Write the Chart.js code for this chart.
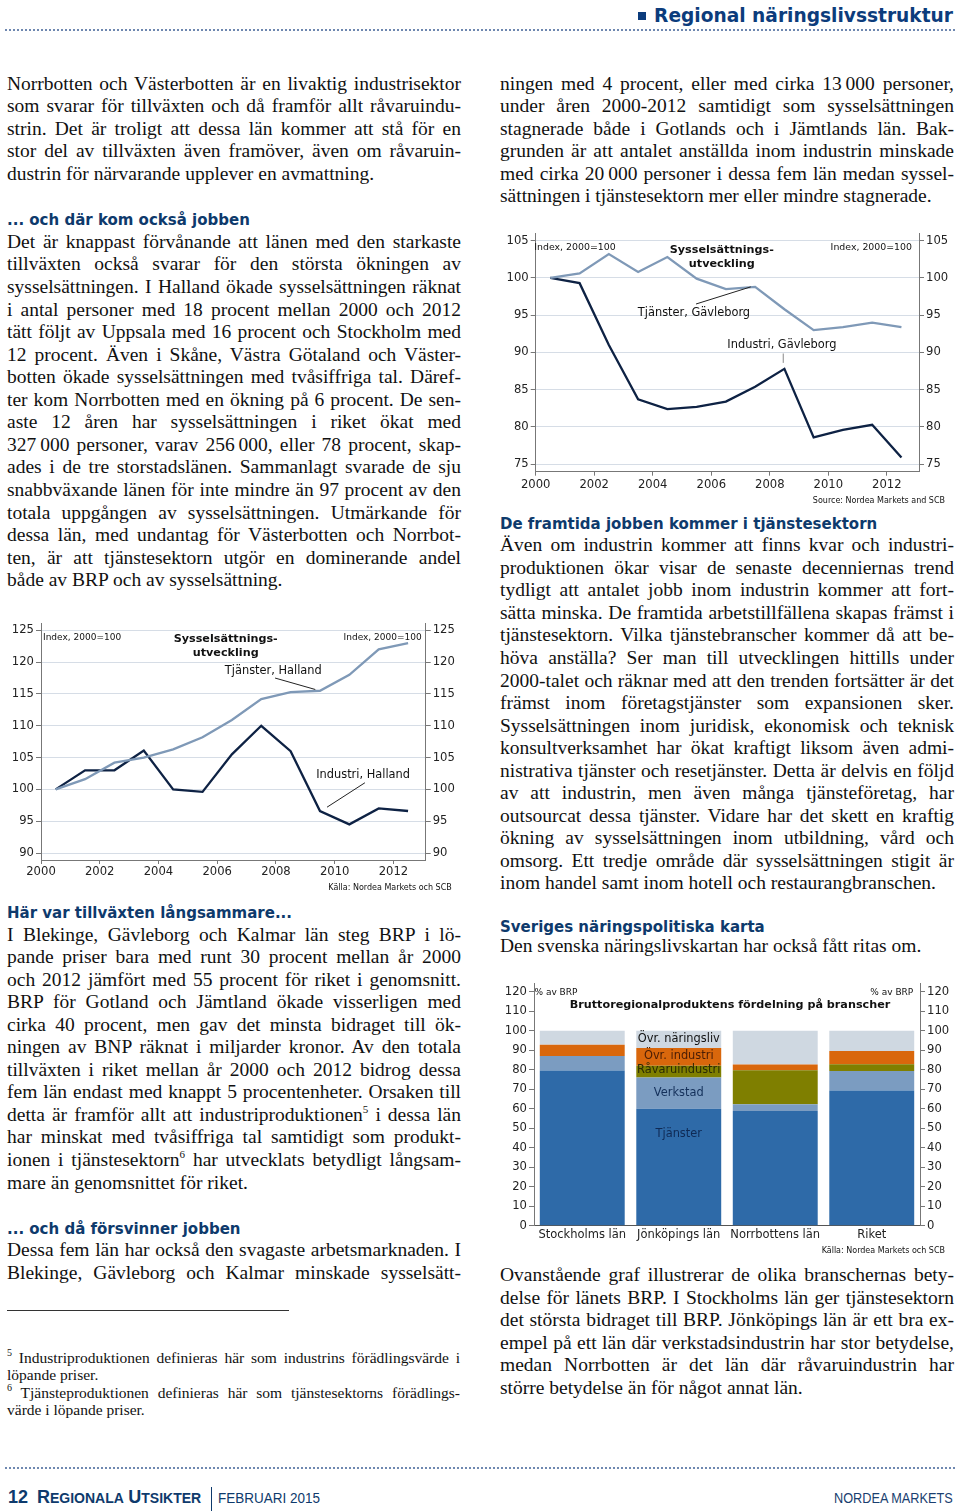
<!DOCTYPE html>
<html><head><meta charset="utf-8">
<script src="https://cdn.jsdelivr.net/npm/chart.js@4.4.1/dist/chart.umd.min.js"></script>
<style>
html,body{margin:0;padding:0;}
body{width:960px;height:1511px;position:relative;background:#fff;overflow:hidden;font-family:'Liberation Serif','Times New Roman',serif;color:#111;}
.ln{position:absolute;white-space:nowrap;font-size:19.5px;line-height:22px;}
.fn{position:absolute;white-space:nowrap;font-size:15.5px;line-height:17px;}
.h{position:absolute;white-space:nowrap;font-family:'DejaVu Sans',sans-serif;font-weight:bold;font-size:15px;line-height:18px;color:#0e3a6c;}
sup{font-size:11px;line-height:0;vertical-align:baseline;position:relative;top:-8px;}
.fn sup{font-size:10px;top:-7px;}
canvas{position:absolute;}
.dots{position:absolute;left:5px;width:950px;height:0;border-top:2px dotted #6f88b0;}
#hdr{position:absolute;right:7px;top:4px;font-family:'DejaVu Sans',sans-serif;font-weight:bold;font-size:18.6px;line-height:24px;color:#0c3c7c;white-space:nowrap;}
#hdr i{display:inline-block;width:8px;height:8px;background:#0c3c7c;margin-right:8px;vertical-align:2px;}
#foot{position:absolute;left:8px;top:1487px;height:24px;font-family:'Liberation Sans',Arial,sans-serif;color:#0e3a6c;white-space:nowrap;}
#foot b{font-weight:bold;}
.f18{font-size:18px;} .f14{font-size:14px;}
#sep{position:absolute;left:211px;top:1487px;width:1px;height:24px;background:#0e3a6c;}
#feb{position:absolute;left:218px;top:1489px;font-family:'Liberation Sans',Arial,sans-serif;font-size:15.5px;color:#0e3a6c;transform:scaleX(0.87);transform-origin:0 0;white-space:nowrap;}
#nm{position:absolute;right:7px;top:1489px;font-family:'Liberation Sans',Arial,sans-serif;font-size:15.5px;color:#1a3f70;transform:scaleX(0.82);transform-origin:100% 0;white-space:nowrap;}
#fline{position:absolute;left:7px;top:1310px;width:282px;height:1px;background:#333;}
</style></head>
<body>
<div id="hdr"><i></i>Regional näringslivsstruktur</div>
<div class="dots" style="top:29px"></div>
<div class="dots" style="top:1467px"></div>
<div id="foot"><b class="f18">12</b>&nbsp;&nbsp;<b class="f18">R</b><b class="f14">EGIONALA</b> <b class="f18">U</b><b class="f14">TSIKTER</b></div>
<div id="sep"></div>
<div id="feb">FEBRUARI 2015</div>
<div id="nm">NORDEA MARKETS</div>
<div id="fline"></div>
<div id="text"></div>

<canvas id="cHalland" width="462" height="280" style="left:0px;top:615px"></canvas>
<canvas id="cGavle" width="465" height="285" style="left:495px;top:225px"></canvas>
<canvas id="cBrp" width="465" height="285" style="left:495px;top:975px"></canvas>

<script>
// ---------------- DATA ----------------
const years = [2000,2001,2002,2003,2004,2005,2006,2007,2008,2009,2010,2011,2012];
const xTickYears = [2000,2002,2004,2006,2008,2010,2012];

const hallandTjanster = [100,101.6,104.2,105,106.3,108.2,110.9,114.2,115.3,115.5,118,122,123];
const hallandIndustri = [100,103,103,106.1,100,99.6,105.5,110,106,96.6,94.5,97,96.6];
const hallandYTicks = [90,95,100,105,110,115,120,125];

const gavleTjanster = [100,100.6,103.2,100.8,102.8,99.9,98.5,98.8,95.8,93,93.4,94,93.4];
const gavleIndustri = [100,99.3,91,83.7,82.4,82.7,83.4,85.4,87.8,78.6,79.6,80.3,75.9];
const gavleYTicks = [75,80,85,90,95,100,105];

const counties = ['Stockholms län','Jönköpings län','Norrbottens län','Riket'];
const brpTjanster = [79.6,60,58.8,69.3];
const brpVerkstad = [7.4,16,3.5,10];
const brpRavaru = [0,6,17.4,3.5];
const brpOvrIndustri = [5.8,9.2,3,6.8];
const brpOvrNaringsliv = [7.2,8.8,17.3,10.4];
const brpYTicks = [0,10,20,30,40,50,60,70,80,90,100,110,120];

// ---------------- TEXT ----------------
const STEP = 22.55;
const paras = [
 {x:7,y:83.3,lines:[
  "Norrbotten och Västerbotten är en livaktig industrisektor",
  "som svarar för tillväxten och då framför allt råvaruindu-",
  "strin. Det är troligt att dessa län kommer att stå för en",
  "stor del av tillväxten även framöver, även om råvaruin-",
  "dustrin för närvarande upplever en avmattning."]},
 {x:7,y:241.7,lines:[
  "Det är knappast förvånande att länen med den starkaste",
  "tillväxten också svarar för den största ökningen av",
  "sysselsättningen. I Halland ökade sysselsättningen räknat",
  "i antal personer med 18 procent mellan 2000 och 2012",
  "tätt följt av Uppsala med 16 procent och Stockholm med",
  "12 procent. Även i Skåne, Västra Götaland och Väster-",
  "botten ökade sysselsättningen med tvåsiffriga tal. Däref-",
  "ter kom Norrbotten med en ökning på 6 procent. De sen-",
  "aste 12 åren har sysselsättningen i riket ökat med",
  "327\u2009000 personer, varav 256\u2009000, eller 78 procent, skap-",
  "ades i de tre storstadslänen. Sammanlagt svarade de sju",
  "snabbväxande länen för inte mindre än 97 procent av den",
  "totala uppgången av sysselsättningen. Utmärkande för",
  "dessa län, med undantag för Västerbotten och Norrbot-",
  "ten, är att tjänstesektorn utgör en dominerande andel",
  "både av BRP och av sysselsättning."]},
 {x:7,y:934.3,lines:[
  "I Blekinge, Gävleborg och Kalmar län steg BRP i lö-",
  "pande priser bara med runt 30 procent mellan år 2000",
  "och 2012 jämfört med 55 procent för riket i genomsnitt.",
  "BRP för Gotland och Jämtland ökade visserligen med",
  "cirka 40 procent, men gav det minsta bidraget till ök-",
  "ningen av BNP räknat i miljarder kronor. Av den totala",
  "tillväxten i riket mellan år 2000 och 2012 bidrog dessa",
  "fem län endast med knappt 5 procentenheter. Orsaken till",
  "detta är framför allt att industriproduktionen<sup>5</sup> i dessa län",
  "har minskat med tvåsiffriga tal samtidigt som produkt-",
  "ionen i tjänstesektorn<sup>6</sup> har utvecklats betydligt långsam-",
  "mare än genomsnittet för riket."]},
 {x:7,y:1250,lines:[
  "Dessa fem län har också den svagaste arbetsmarknaden. I",
  "Blekinge, Gävleborg och Kalmar minskade sysselsätt-"],lastJ:true},
 {x:500,y:83.3,lines:[
  "ningen med 4 procent, eller med cirka 13\u2009000 personer,",
  "under åren 2000-2012 samtidigt som sysselsättningen",
  "stagnerade både i Gotlands och i Jämtlands län. Bak-",
  "grunden är att antalet anställda inom industrin minskade",
  "med cirka 20\u2009000 personer i dessa fem län medan syssel-",
  "sättningen i tjänstesektorn mer eller mindre stagnerade."]},
 {x:500,y:545,lines:[
  "Även om industrin kommer att finns kvar och industri-",
  "produktionen ökar visar de senaste decenniernas trend",
  "tydligt att antalet jobb inom industrin kommer att fort-",
  "sätta minska. De framtida arbetstillfällena skapas främst i",
  "tjänstesektorn. Vilka tjänstebranscher kommer då att be-",
  "höva anställa? Ser man till utvecklingen hittills under",
  "2000-talet och räknar med att den trenden fortsätter är det",
  "främst inom företagstjänster som expansionen sker.",
  "Sysselsättningen inom juridisk, ekonomisk och teknisk",
  "konsultverksamhet har ökat kraftigt liksom även admi-",
  "nistrativa tjänster och resetjänster. Detta är delvis en följd",
  "av att industrin, men även många tjänsteföretag, har",
  "outsourcat dessa tjänster. Vidare har det skett en kraftig",
  "ökning av sysselsättningen inom utbildning, vård och",
  "omsorg. Ett tredje område där sysselsättningen stigit är",
  "inom handel samt inom hotell och restaurangbranschen."]},
 {x:500,y:946,lines:[
  "Den svenska näringslivskartan har också fått ritas om."]},
 {x:500,y:1275,lines:[
  "Ovanstående graf illustrerar de olika branschernas bety-",
  "delse för länets BRP. I Stockholms län ger tjänstesektorn",
  "det största bidraget till BRP. Jönköpings län är ett bra ex-",
  "empel på ett län där verkstadsindustrin har stor betydelse,",
  "medan Norrbotten är det län där råvaruindustrin har",
  "större betydelse än för något annat län."]}
];
const headings = [
 {x:7,y:219.3,t:"... och där kom också jobben"},
 {x:7,y:912.7,t:"Här var tillväxten långsammare..."},
 {x:7,y:1228.3,t:"... och då försvinner jobben"},
 {x:500,y:523.3,t:"De framtida jobben kommer i tjänstesektorn"},
 {x:500,y:926.7,t:"Sveriges näringspolitiska karta"}
];
const footnotes = [
 {y:1359,t:"<sup>5</sup> Industriproduktionen definieras här som industrins förädlingsvärde i",j:true},
 {y:1376,t:"löpande priser."},
 {y:1394,t:"<sup>6</sup> Tjänsteproduktionen definieras här som tjänstesektorns förädlings-",j:true},
 {y:1411,t:"värde i löpande priser."}
];

const host = document.getElementById('text');
const toFit = [];
function add(cls,x,top,html,just,w){
  const d=document.createElement('div'); d.className=cls; d.style.left=x+'px'; d.style.top=top+'px'; d.innerHTML=html; host.appendChild(d);
  if(just) toFit.push([d,w]);
}
paras.forEach(p=>{
  p.lines.forEach((l,i)=>{
    const last = i===p.lines.length-1 && !p.lastJ;
    add('ln',p.x,p.y+i*STEP-10.8,l,!last,454);
  });
});
headings.forEach(h=>add('h',h.x,h.y-8.4,h.t,false));
footnotes.forEach(f=>add('fn',7,f.y-9.7,f.t,f.j,453));
function fitAll(){
  toFit.forEach(([d,w])=>{
    d.style.wordSpacing='0px';
    const nat=d.getBoundingClientRect().width;
    const n=(d.textContent.match(/ /g)||[]).length;
    if(n) d.style.wordSpacing=((w-nat)/n)+'px';
  });
}
fitAll();
if(document.fonts&&document.fonts.ready) document.fonts.ready.then(fitAll);

// ---------------- CHARTS ----------------
const FONT='DejaVu Sans';
const annot = {
  id:'annot',
  afterDraw(chart,args,opts){
    const {ctx,chartArea:a,scales}=chart; const xs=scales.x, ys=scales.y;
    ctx.save();
    (opts.lines||[]).forEach(l=>{
      ctx.strokeStyle=l.color||'#222'; ctx.lineWidth=1; ctx.beginPath();
      ctx.moveTo(xs.getPixelForValue(l.x1),ys.getPixelForValue(l.y1));
      ctx.lineTo(xs.getPixelForValue(l.x2),ys.getPixelForValue(l.y2)); ctx.stroke();
    });
    (opts.texts||[]).forEach(t=>{
      ctx.font=t.font; ctx.fillStyle=t.color||'#111'; ctx.textAlign=t.align||'left'; ctx.textBaseline='middle';
      let px,py;
      if(t.rel){
        px = t.rel[0]==='l'?a.left:(t.rel[0]==='r'?a.right:(a.left+a.right)/2);
        py = t.rel[1]==='t'?a.top:a.bottom;
        px+=t.dx; py+=t.dy;
      } else {
        px = xs.getPixelForValue(t.x); py = ys.getPixelForValue(t.y);
      }
      ctx.fillText(t.text,px,py);
    });
    ctx.restore();
  }
};

function yAxis(pos,min,max,ticks,w,grid){
  return {
    position:pos,min:min,max:max,
    afterBuildTicks:s=>{s.ticks=ticks.map(v=>({value:v}));},
    ticks:{font:{family:FONT,size:11.6},color:'#222',padding:2,autoSkip:false},
    grid: grid ? {color:'#d6dde6',lineWidth:1,tickLength:5,tickColor:'#777',drawTicks:true}
               : {drawOnChartArea:false,tickLength:5,color:'#777',drawTicks:true},
    border:{display:true,color:'#777',width:1},
    afterFit:s=>{s.width=w;}
  };
}

function lineChart(id,cfg){
  new Chart(document.getElementById(id),{
    type:'line',
    data:{datasets:[
      {label:'Tjänster',data:years.map((y,i)=>({x:y+0.5,y:cfg.tj[i]})),borderColor:'#7f99b7',borderWidth:2.3,pointRadius:0,tension:0,fill:false},
      {label:'Industri',data:years.map((y,i)=>({x:y+0.5,y:cfg.ind[i]})),borderColor:'#0e2244',borderWidth:2.3,pointRadius:0,tension:0,fill:false}
    ]},
    options:{
      responsive:false,animation:false,devicePixelRatio:1,
      layout:{padding:{top:cfg.padTop,left:0,right:0,bottom:0}},
      plugins:{legend:{display:false},tooltip:{enabled:false},annot:cfg.annot},
      scales:{
        x:{type:'linear',min:2000,max:2013.1,
          afterBuildTicks:s=>{s.ticks=xTickYears.map(v=>({value:v}));},
          ticks:{callback:v=>String(v),font:{family:FONT,size:11.6},color:'#222',padding:cfg.xpad,maxRotation:0,autoSkip:false},
          grid:{drawOnChartArea:false,drawTicks:true,tickLength:4,color:'#777'},
          border:{display:true,color:'#777',width:1},
          afterFit:s=>{s.height=cfg.xh;}},
        y:yAxis('left',cfg.min,cfg.max,cfg.yt,cfg.lw,true),
        y2:yAxis('right',cfg.min,cfg.max,cfg.yt,cfg.rw,false)
      }
    },
    plugins:[annot]
  });
}

const fSmall='9px '+FONT, fLbl='11.4px '+FONT, fBold='bold 11.2px '+FONT, fSrc='8px '+FONT;

lineChart('cHalland',{
  tj:hallandTjanster, ind:hallandIndustri, min:88.9, max:126, yt:hallandYTicks,
  padTop:5, lw:41, rw:462-425.7, xh:35, xpad:1,
  annot:{
    texts:[
      {text:'Index, 2000=100',font:fSmall,rel:['l','t'],dx:2,dy:13.3},
      {text:'Index, 2000=100',font:fSmall,rel:['r','t'],dx:-4,dy:13.3,align:'right'},
      {text:'Sysselsättnings-',font:fBold,x:2006.29,y:123.7,align:'center'},
      {text:'utveckling',font:fBold,x:2006.29,y:121.5,align:'center'},
      {text:'Tjänster, Halland',font:fLbl,x:2006.26,y:118.65},
      {text:'Industri, Halland',font:fLbl,x:2009.37,y:102.19},
      {text:'Källa: Nordea Markets och SCB',font:fSrc,rel:['r','b'],dx:26,dy:27.7,align:'right'}
    ],
    lines:[
      {x1:2007.97,y1:117.5,x2:2009.34,y2:115.7,color:'#222'},
      {x1:2011.03,y1:101.04,x2:2009.74,y2:97.2,color:'#222'}
    ]
  }
});

lineChart('cGavle',{
  tj:gavleTjanster, ind:gavleIndustri, min:74, max:105.9, yt:gavleYTicks,
  padTop:6.7, lw:40.7, rw:41, xh:38.3, xpad:2,
  annot:{
    texts:[
      {text:'Index, 2000=100',font:'9.4px '+FONT,rel:['l','t'],dx:-1.4,dy:13.3},
      {text:'Index, 2000=100',font:'9.4px '+FONT,rel:['r','t'],dx:-7,dy:13.3,align:'right'},
      {text:'Sysselsättnings-',font:fBold,x:2006.36,y:103.67,align:'center'},
      {text:'utveckling',font:fBold,x:2006.36,y:101.9,align:'center'},
      {text:'Tjänster, Gävleborg',font:fLbl,x:2003.49,y:95.35},
      {text:'Industri, Gävleborg',font:fLbl,x:2006.55,y:90.97},
      {text:'Source: Nordea Markets and SCB',font:fSrc,rel:['r','b'],dx:26,dy:29.3,align:'right'}
    ],
    lines:[
      {x1:2005.48,y1:96.5,x2:2007.35,y2:98.8,color:'#222'},
      {x1:2008.46,y1:89.86,x2:2008.46,y2:88.6,color:'#888'}
    ]
  }
});

new Chart(document.getElementById('cBrp'),{
  type:'bar',
  data:{labels:counties,datasets:[
    {label:'Tjänster',data:brpTjanster,backgroundColor:'#2e6aa8'},
    {label:'Verkstad',data:brpVerkstad,backgroundColor:'#7b9cc1'},
    {label:'Råvaruindustri',data:brpRavaru,backgroundColor:'#7f7f00'},
    {label:'Övr. industri',data:brpOvrIndustri,backgroundColor:'#d9670c'},
    {label:'Övr. näringsliv',data:brpOvrNaringsliv,backgroundColor:'#cfd8e1'}
  ]},
  options:{
    responsive:false,animation:false,devicePixelRatio:1,
    layout:{padding:{top:6.7,left:0,right:0,bottom:0}},
    datasets:{bar:{categoryPercentage:1,barPercentage:0.88,borderWidth:0}},
    plugins:{legend:{display:false},tooltip:{enabled:false},annot:{
      texts:[
        {text:'% av BRP',font:fSmall,rel:['l','t'],dx:0.5,dy:8.3},
        {text:'% av BRP',font:fSmall,rel:['r','t'],dx:-6.7,dy:8.3,align:'right'},
        {text:'Bruttoregionalproduktens fördelning på branscher',font:fBold,rel:['c','t'],dx:3,dy:21.6,align:'center'},
        {text:'Övr. näringsliv',font:fLbl,x:1,y:95.7,align:'center',color:'#111'},
        {text:'Övr. industri',font:fLbl,x:1,y:86.9,align:'center',color:'#4a1d05'},
        {text:'Råvaruindustri',font:fLbl,x:1,y:79.6,align:'center',color:'#2b2b05'},
        {text:'Verkstad',font:fLbl,x:1,y:67.9,align:'center',color:'#14305a'},
        {text:'Tjänster',font:fLbl,x:1,y:47.0,align:'center',color:'#0f2a55'},
        {text:'Källa: Nordea Markets och SCB',font:fSrc,rel:['r','b'],dx:25,dy:25.3,align:'right'}
      ]}},
    scales:{
      x:{stacked:true,
        ticks:{font:{family:FONT,size:11.5},color:'#222',padding:2,maxRotation:0,autoSkip:false},
        grid:{display:false,drawTicks:false},
        border:{display:true,color:'#555',width:1},
        afterFit:s=>{s.height=34.3;}},
      y:Object.assign(yAxis('left',0,124,brpYTicks,39,false),{stacked:true}),
      y2:yAxis('right',0,124,brpYTicks,40,false)
    }
  },
  plugins:[annot]
});
</script>
</body></html>
